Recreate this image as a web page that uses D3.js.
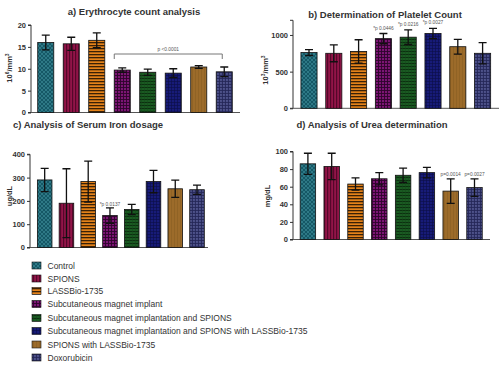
<!DOCTYPE html>
<html><head><meta charset="utf-8">
<script src="https://cdn.jsdelivr.net/npm/d3@7"></script>
<style>body{margin:0;background:#fff}svg{display:block}text{font-family:"Liberation Sans",Arial,sans-serif}</style>
</head><body>
<script>
const groups = ["Control","SPIONS","LASSBio-1735","Subcutaneous magnet implant","Subcutaneous magnet implantation and SPIONS","Subcutaneous magnet implantation and SPIONS with LASSBio-1735","SPIONS with LASSBio-1735","Doxorubicin"];
const erythMean = [16.0,15.7,16.5,9.7,9.2,9.0,10.4,9.3];
const erythErr  = [1.7,1.5,1.7,0.5,0.7,1.0,0.3,1.1];
const plateletMean = [760,750,775,950,970,1020,840,750];
const plateletErr  = [40,115,160,70,100,70,100,145];
const ironMean = [290,190,283,137,163,283,252,248];
const ironErr  = [50,148,88,33,22,48,37,20];
const ureaMean = [86,83,63,69,73,76,55,59];
const ureaErr  = [12,15,7,7,8,6,14,10];
const erythTicks = [0,5,10,15,20];
const plateletTicks = [0,500,1000];
const ironTicks = [0,100,200,300,400];
const ureaTicks = [0,20,40,60,80,100];

const svg = d3.select("body").append("svg").attr("width",500).attr("height",365);
const defs = svg.append("defs");

const pats = [
  {base:"#155866", draw:p=>{p.append("path").attr("d","M0,0L4,4M4,0L0,4").attr("stroke","#3f8e9c").attr("stroke-width",0.6);} , size:4},
  {base:"#921448", draw:p=>{p.append("rect").attr("x",0).attr("y",0).attr("width",1.2).attr("height",3).attr("fill","#55072a");}, size:3},
  {base:"#e4821a", draw:p=>{p.append("rect").attr("x",0).attr("y",0).attr("width",3).attr("height",1.3).attr("fill","#3a2106");}, size:3},
  {base:"#7c1574", draw:p=>{p.append("path").attr("d","M0,0.5H3M0.5,0V3").attr("stroke","#2e052b").attr("stroke-width",0.9);}, size:3},
  {base:"#1a5a22", draw:p=>{p.append("path").attr("d","M0,0.5H3").attr("stroke","#0a2c0e").attr("stroke-width",0.9);p.append("path").attr("d","M0.5,0V3").attr("stroke","#144a1a").attr("stroke-width",0.5);}, size:3},
  {base:"#171b78", draw:p=>{p.append("path").attr("d","M0,0.5H3M0.5,0V3").attr("stroke","#0b0e46").attr("stroke-width",0.6);}, size:3},
  {base:"#9c6b2a", draw:p=>{p.append("path").attr("d","M0.5,0V3").attr("stroke","#845a20").attr("stroke-width",0.5);}, size:3},
  {base:"#464a82", draw:p=>{p.append("path").attr("d","M0,0.5H3M0.5,0V3").attr("stroke","#232656").attr("stroke-width",0.8);p.append("rect").attr("x",1.6).attr("y",1.6).attr("width",0.6).attr("height",0.6).attr("fill","#7c80b8");}, size:3}
];
pats.forEach((d,i)=>{
  const p = defs.append("pattern").attr("id","pat"+i).attr("patternUnits","userSpaceOnUse")
    .attr("width",d.size).attr("height",d.size);
  p.append("rect").attr("width",d.size).attr("height",d.size).attr("fill",d.base);
  d.draw(p);
});

function panel(cfg){
  const g = svg.append("g");
  const x = d3.scaleBand().domain(groups).range(cfg.xr).paddingInner(cfg.pad).paddingOuter(cfg.pad/2);
  const y = d3.scaleLinear().domain(cfg.dom).range(cfg.yr);
  const ya = d3.axisLeft(y).tickValues(cfg.ticks).tickFormat(d3.format("d")).tickSize(3).tickPadding(2);
  const ag = g.append("g").attr("transform",`translate(${cfg.ax},0)`).call(ya);
  ag.select(".domain").attr("stroke","#333").attr("stroke-width",1).attr("d",`M-3,${y(cfg.dom[1])}H0V${y(0)}H-3`);
  ag.selectAll(".tick line").attr("stroke","#333");
  ag.selectAll(".tick text").attr("font-size",7.5).attr("font-weight","bold").attr("fill","#333");
  g.append("line").attr("x1",cfg.ax).attr("x2",cfg.axEnd).attr("y1",y(0)).attr("y2",y(0)).attr("stroke","#555").attr("stroke-width",1);
  const data = groups.map((k,i)=>({k,i,m:cfg.mean[i],e:cfg.err[i]}));
  g.selectAll("rect.bar").data(data).join("rect").attr("class","bar")
    .attr("x",d=>x(d.k)).attr("width",x.bandwidth())
    .attr("y",d=>y(d.m)).attr("height",d=>y(0)-y(d.m))
    .attr("fill",d=>`url(#pat${d.i})`).attr("stroke","#111").attr("stroke-width",0.8);
  const cap = 4;
  data.forEach(d=>{
    const cx = x(d.k)+x.bandwidth()/2;
    g.append("path").attr("d",`M${cx},${y(d.m+d.e)}V${y(Math.max(0,d.m-d.e))}M${cx-cap},${y(d.m+d.e)}H${cx+cap}M${cx-cap},${y(Math.max(0,d.m-d.e))}H${cx+cap}`)
      .attr("stroke","#111").attr("stroke-width",1.3).attr("fill","none");
  });
  g.append("text").attr("x",cfg.tx).attr("y",cfg.ty).attr("text-anchor","middle")
    .attr("font-size",9.5).attr("font-weight","bold").attr("fill","#333").text(cfg.title);
  const yl = g.append("text").attr("transform",`translate(${cfg.lx},${cfg.ly}) rotate(-90)`)
    .attr("text-anchor","middle").attr("font-size",7.5).attr("font-weight","bold").attr("fill","#333");
  cfg.label.forEach(s=>{
    const t = yl.append("tspan").text(s[0]);
    if(s[1]) t.attr("font-size",5).attr("baseline-shift","super");
  });
  (cfg.notes||[]).forEach(n=>{
    const cx = x(groups[n.i])+x.bandwidth()/2;
    g.append("text").attr("x",cx).attr("y",y(cfg.mean[n.i]+cfg.err[n.i])-n.dy).attr("text-anchor","middle")
      .attr("font-size",4.8).attr("fill","#555").text(n.t);
  });
  return {x,y,g};
}

const A = panel({xr:[33,237],pad:0.37,dom:[0,20],yr:[112.5,25],ticks:erythTicks,ax:31,axEnd:240,
  mean:erythMean,err:erythErr,title:"a) Erythrocyte count analysis",tx:134,ty:14.5,
  label:[["10"],["6",1],["/mm"],["3",1]],lx:12,ly:68});
{
  const x=A.x;
  const x1 = x(groups[3])+x.bandwidth()/2-8, x2 = x(groups[7])+x.bandwidth()/2-2;
  const by = 54;
  A.g.append("path").attr("d",`M${x1},${by+5}V${by}H${x2}V${by+5}`).attr("stroke","#777").attr("stroke-width",1).attr("fill","none");
  A.g.append("text").attr("x",(x1+x2)/2).attr("y",by-3).attr("text-anchor","middle").attr("font-size",4.8).attr("fill","#555").text("p <0.0001");
}
panel({xr:[296.6,495],pad:0.35,dom:[0,1200],yr:[108.3,20.3],ticks:plateletTicks,ax:293,axEnd:499,
  mean:plateletMean,err:plateletErr,title:"b) Determination of Platelet Count",tx:385,ty:17.5,
  label:[["10"],["3",1],["/mm"],["3",1]],lx:268,ly:70,
  notes:[{i:3,t:"*p 0.0446",dy:4},{i:4,t:"*p 0.0216",dy:4},{i:5,t:"*p 0.0027",dy:4}]});
panel({xr:[33.8,207.9],pad:0.33,dom:[0,400],yr:[247.5,154.3],ticks:ironTicks,ax:30,axEnd:208,
  mean:ironMean,err:ironErr,title:"c) Analysis of Serum Iron dosage",tx:88,ty:128,
  label:[["ug/dL"]],lx:12,ly:196,
  notes:[{i:3,t:"*p 0.0137",dy:2}]});
panel({xr:[296,486.4],pad:0.35,dom:[0,100],yr:[239.5,151.5],ticks:ureaTicks,ax:293,axEnd:490,
  mean:ureaMean,err:ureaErr,title:"d) Analysis of Urea determination",tx:372,ty:128,
  label:[["mg/dL"]],lx:270,ly:196,
  notes:[{i:6,t:"p=0.0014",dy:3},{i:7,t:"p=0.0027",dy:3}]});

const legY = [265.5,278.5,291,304,318,331,344.5,357.5];
const lg = svg.append("g");
groups.forEach((k,i)=>{
  lg.append("rect").attr("x",32).attr("y",legY[i]-3.5).attr("width",9).attr("height",7)
    .attr("fill",`url(#pat${i})`).attr("stroke","#111").attr("stroke-width",0.6);
  lg.append("text").attr("x",47.5).attr("y",legY[i]+3.1).attr("font-size",8.5).attr("fill","#333").text(k);
});
</script>
</body></html>
